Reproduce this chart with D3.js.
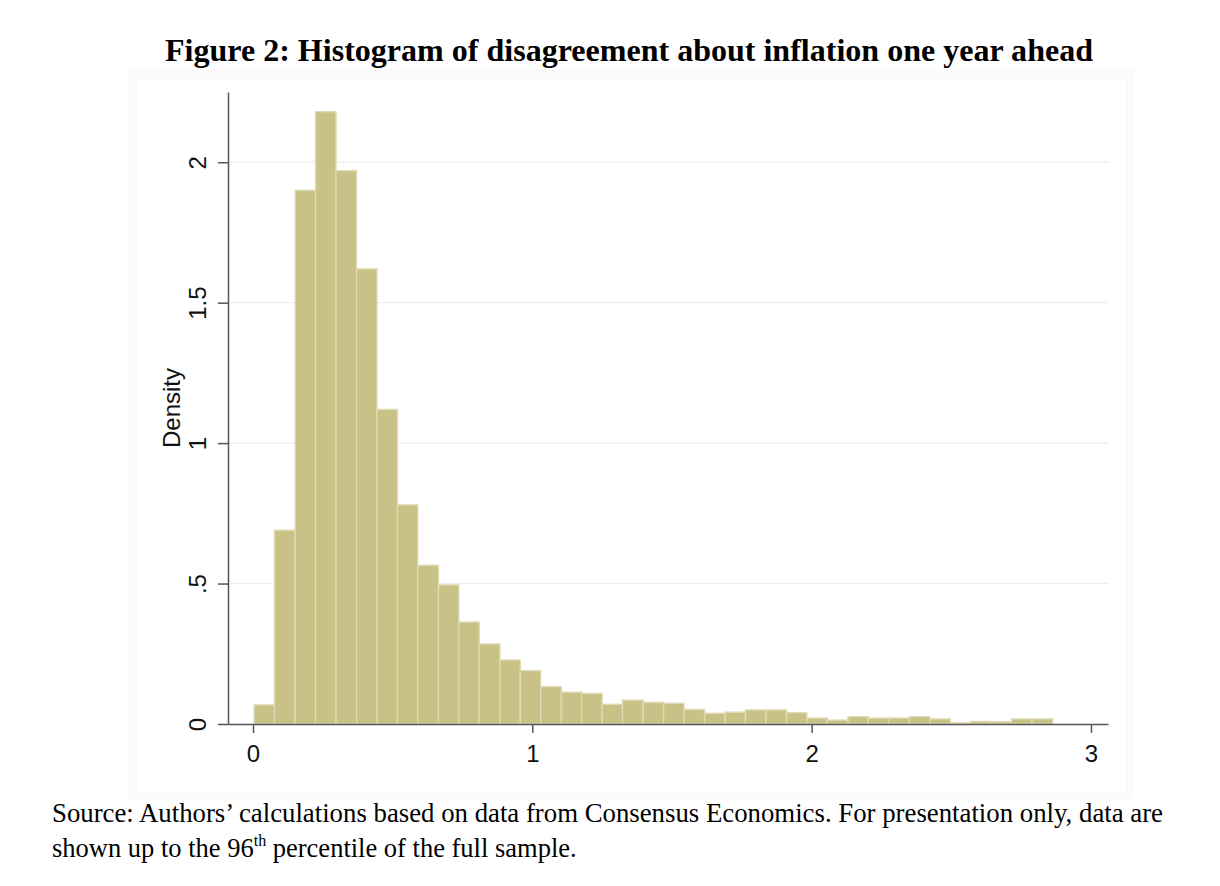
<!DOCTYPE html>
<html>
<head>
<meta charset="utf-8">
<script src="https://cdn.jsdelivr.net/npm/d3@7"></script>
<style>
  html, body { margin: 0; padding: 0; background: #ffffff; }
  svg { display: block; }
</style>
</head>
<body>
<svg id="chart" width="1220" height="886"></svg>
<script>
// ---- Data ----
const titleText = "Figure 2: Histogram of disagreement about inflation one year ahead";
const yLabel = "Density";
const xTicks = [0, 1, 2, 3];
const xTickLabels = ["0", "1", "2", "3"];
const yTicks = [0, 0.5, 1, 1.5, 2];
const yTickLabels = ["0", ".5", "1", "1.5", "2"];
const binEdges = [0.004, 0.077, 0.151, 0.224, 0.297, 0.371, 0.444, 0.517, 0.590, 0.664,
                  0.737, 0.810, 0.884, 0.957, 1.030, 1.104, 1.177, 1.250, 1.323, 1.397,
                  1.470, 1.543, 1.617, 1.690, 1.763, 1.837, 1.910, 1.983, 2.056, 2.130,
                  2.203, 2.276, 2.350, 2.423, 2.496, 2.570, 2.643, 2.716, 2.789, 2.863];
const density = [0.068, 0.69, 1.90, 2.18, 1.97, 1.62, 1.12, 0.78, 0.565, 0.495,
                 0.363, 0.285, 0.228, 0.19, 0.133, 0.113, 0.109, 0.070, 0.085, 0.077,
                 0.074, 0.052, 0.038, 0.042, 0.050, 0.050, 0.040, 0.021, 0.014, 0.026,
                 0.021, 0.021, 0.026, 0.018, 0.004, 0.009, 0.008, 0.018, 0.018];
const sourceLine1 = "Source: Authors’ calculations based on data from Consensus Economics. For presentation only, data are";
const sourceLine2a = "shown up to the 96";
const sourceSup = "th";
const sourceLine2b = " percentile of the full sample.";

// ---- Layout ----
const svg = d3.select("#chart");
const plot = { left: 228, right: 1108, top: 92, bottom: 724 };

const x = d3.scaleLinear().domain([-0.0895, 3.061]).range([plot.left, plot.right]);
const y = d3.scaleLinear().domain([0, 2.25]).range([plot.bottom, plot.top]);

const sans = "'Liberation Sans', Arial, Helvetica, sans-serif";
const serif = "'Liberation Serif', 'Times New Roman', serif";

// graph region backgrounds
svg.append("rect").attr("x", 128).attr("y", 69).attr("width", 1005).attr("height", 730)
  .attr("fill", "#fafafa");
svg.append("rect").attr("x", 137).attr("y", 80).attr("width", 988).attr("height", 712)
  .attr("fill", "#ffffff");

// Title
svg.append("text")
  .attr("x", 165).attr("y", 61)
  .attr("font-family", serif)
  .attr("font-weight", "bold")
  .attr("font-size", 31)
  .attr("textLength", 928)
  .attr("lengthAdjust", "spacingAndGlyphs")
  .attr("fill", "#000")
  .text(titleText);

// Gridlines
svg.append("g").selectAll("line")
  .data(yTicks.filter(d => d > 0))
  .join("line")
  .attr("x1", plot.left).attr("x2", plot.right)
  .attr("y1", d => y(d)).attr("y2", d => y(d))
  .attr("stroke", "#e9eef0").attr("stroke-width", 1.2);

// Bars
svg.append("g").selectAll("rect")
  .data(density)
  .join("rect")
  .attr("x", (d, i) => x(binEdges[i]))
  .attr("width", (d, i) => x(binEdges[i + 1]) - x(binEdges[i]))
  .attr("y", d => y(d))
  .attr("height", d => y(0) - y(d))
  .attr("fill", "#c8c287")
  .attr("stroke", "#dedab2")
  .attr("stroke-width", 1.4);

// Y axis
const yAxis = d3.axisLeft(y)
  .tickValues(yTicks)
  .tickFormat((d, i) => yTickLabels[i])
  .tickSizeInner(10)
  .tickSizeOuter(0);
const gy = svg.append("g").attr("transform", `translate(${plot.left},0)`).call(yAxis);
gy.select(".domain").attr("stroke", "#555").attr("stroke-width", 1.5);
gy.selectAll(".tick line").attr("stroke", "#555").attr("stroke-width", 1.5);
gy.selectAll(".tick text")
  .attr("font-family", sans)
  .attr("font-size", 24)
  .attr("fill", "#111")
  .attr("text-anchor", "middle")
  .attr("dy", null)
  .attr("x", null)
  .attr("transform", "translate(-22,0) rotate(-90)")
  .attr("y", 0);

// X axis
const xAxis = d3.axisBottom(x)
  .tickValues(xTicks)
  .tickFormat((d, i) => xTickLabels[i])
  .tickSizeInner(9)
  .tickSizeOuter(0)
  .tickPadding(12);
const gx = svg.append("g").attr("transform", `translate(0,${plot.bottom})`).call(xAxis);
gx.select(".domain").attr("stroke", "#555").attr("stroke-width", 1.5);
gx.selectAll(".tick line").attr("stroke", "#555").attr("stroke-width", 1.5);
gx.selectAll(".tick text")
  .attr("font-family", sans)
  .attr("font-size", 24)
  .attr("fill", "#111");

// Y label
svg.append("text")
  .attr("transform", `translate(180,${(plot.top + plot.bottom) / 2}) rotate(-90)`)
  .attr("text-anchor", "middle")
  .attr("font-family", sans)
  .attr("font-size", 24)
  .attr("fill", "#111")
  .text(yLabel);

// Source note
const note = svg.append("g")
  .attr("font-family", serif)
  .attr("font-size", 26.5)
  .attr("fill", "#000");
note.append("text").attr("x", 52).attr("y", 822)
  .attr("textLength", 1111).attr("lengthAdjust", "spacingAndGlyphs")
  .text(sourceLine1);
const t2 = note.append("text").attr("x", 52).attr("y", 857);
t2.append("tspan").text(sourceLine2a);
t2.append("tspan").attr("font-size", 16).attr("dy", -11).text(sourceSup);
t2.append("tspan").attr("dy", 11).text(sourceLine2b);
</script>
</body>
</html>
